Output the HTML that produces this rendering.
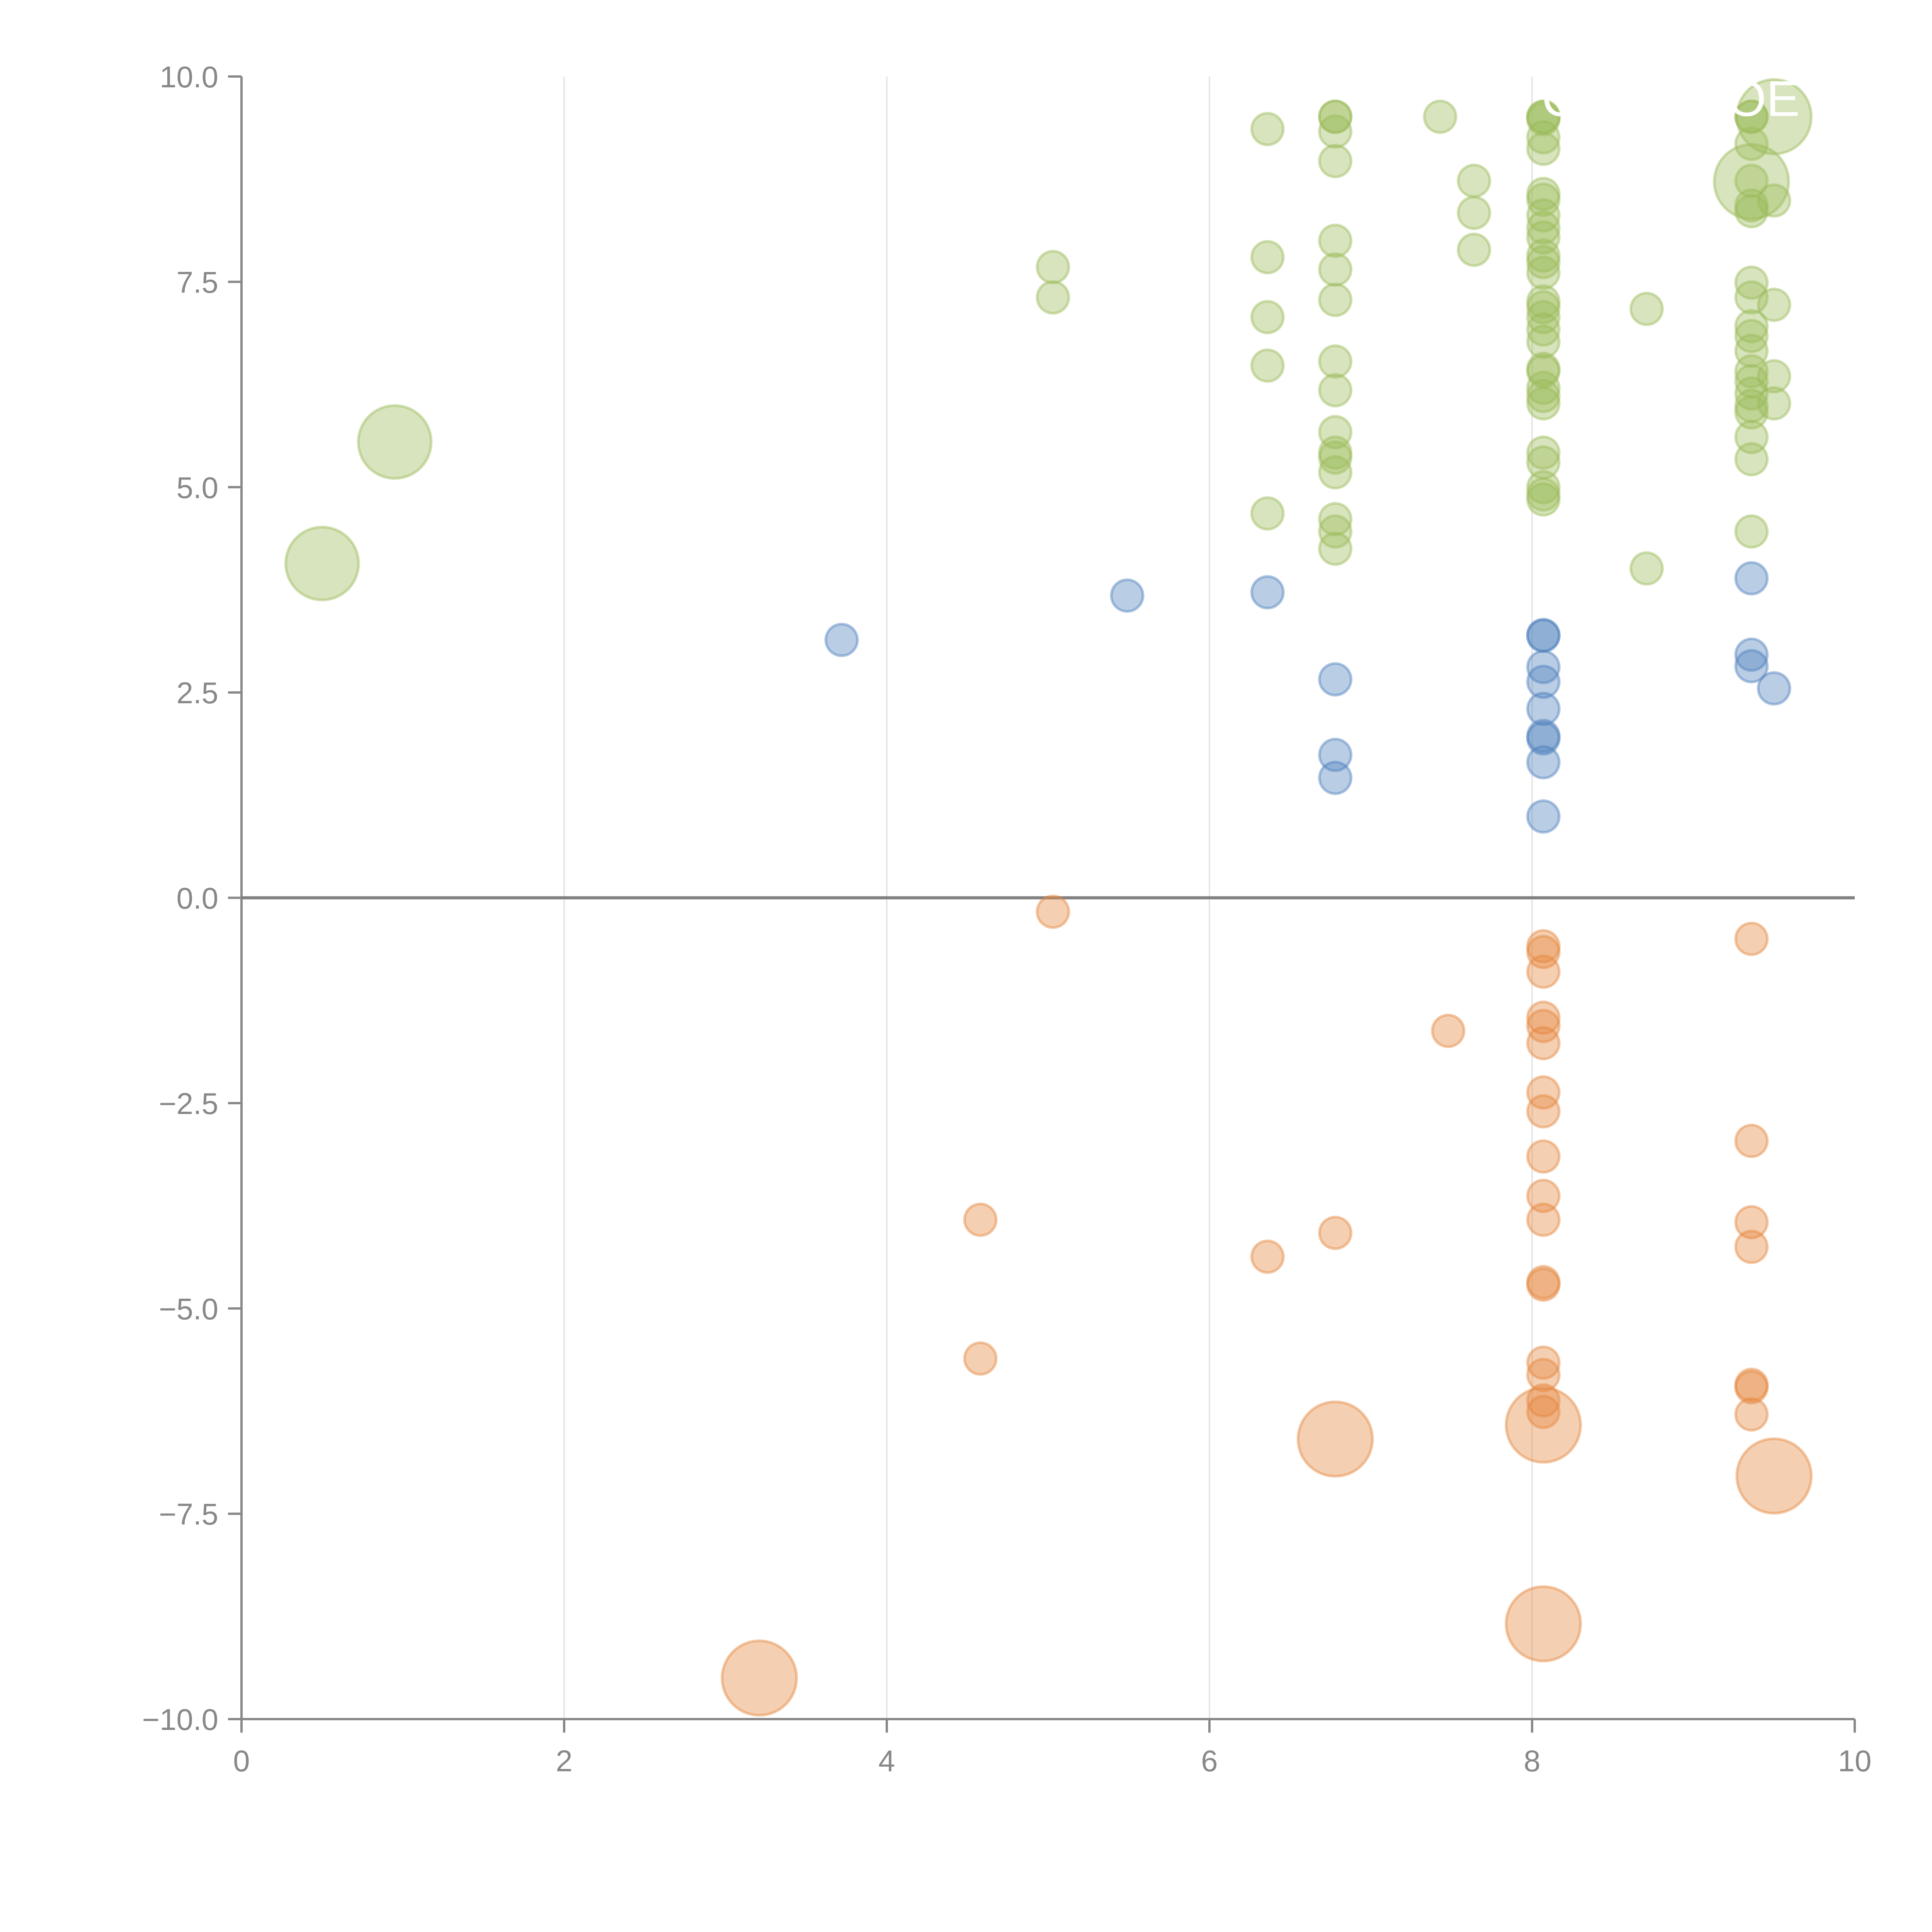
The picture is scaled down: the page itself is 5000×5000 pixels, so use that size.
<!DOCTYPE html>
<html><head><meta charset="utf-8">
<style>
html,body{margin:0;padding:0;background:#fff;}
svg{display:block;font-family:"Liberation Sans",Arial,sans-serif;}
</style></head>
<body>
<svg id="chart" width="5000" height="5000" viewBox="0 0 5000 5000" xmlns="http://www.w3.org/2000/svg">
<rect width="5000" height="5000" fill="#fff"/>
<g id="grid"></g>
<g id="axes"></g>
<g id="marks"></g>
<text x="4470" y="300" font-size="130" fill="#fff">OE</text>
<text x="3990" y="300" font-size="130" fill="#fff">C</text>
</svg>
<script>
const xTicks = [0,2,4,6,8,10];
const xTickLabels = ["0","2","4","6","8","10"];
const yTicks = [10,7.5,5,2.5,0,-2.5,-5,-7.5,-10];
const yTickLabels = ["10.0","7.5","5.0","2.5","0.0","\u22122.5","\u22125.0","\u22127.5","\u221210.0"];

const greenX = [0.5,0.95,5.03,5.03,6.36,6.36,6.36,6.36,6.36,
 6.78,6.78,6.78,6.78,6.78,6.78,6.78,6.78,6.78,6.78,6.78,6.78,6.78,6.78,6.78,6.78,
 7.43,7.64,7.64,7.64,
 8.07,8.07,8.07,8.07,8.07,8.07,8.07,8.07,8.07,8.07,8.07,8.07,8.07,8.07,8.07,8.07,8.07,8.07,8.07,8.07,8.07,8.07,8.07,8.07,8.07,8.07,8.07,8.07,
 8.71,8.71,
 9.36,9.36,9.36,9.36,9.36,9.36,9.36,9.36,9.36,9.36,9.36,9.36,9.36,9.36,9.36,9.36,9.36,9.36,9.36,9.36,
 9.5,9.5,9.5,9.5,9.5];
const greenY = [4.07,5.55,7.68,7.31,9.36,7.8,7.07,6.48,4.68,
 9.51,9.51,9.33,8.97,8.0,7.65,7.28,6.53,6.18,5.67,5.42,5.36,5.18,4.61,4.46,4.25,
 9.51,8.73,8.34,7.89,
 9.51,9.51,9.48,9.26,9.12,8.57,8.5,8.31,8.16,8.04,7.82,7.74,7.61,7.26,7.19,7.07,6.92,6.77,6.44,6.41,6.21,6.11,6.02,5.42,5.30,5.00,4.91,4.85,
 7.17,4.01,
 9.51,9.51,9.18,8.72,8.73,8.43,8.36,7.49,7.31,6.96,6.84,6.66,6.41,6.29,6.14,5.99,5.91,5.61,5.34,4.46,
 9.51,8.49,7.22,6.35,6.02];
const greenS = [2.3,2.3,1,1,1,1,1,1,1,
 1,1,1,1,1,1,1,1,1,1,1,1,1,1,1,1,
 1,1,1,1,
 1,1,1,1,1,1,1,1,1,1,1,1,1,1,1,1,1,1,1,1,1,1,1,1,1,1,1,1,
 1,1,
 1,1,1,2.35,1,1,1,1,1,1,1,1,1,1,1,1,1,1,1,1,
 2.35,1,1,1,1];

const blueX = [3.72,5.49,6.36,6.78,6.78,6.78,8.07,8.07,8.07,8.07,8.07,8.07,8.07,8.07,8.07,9.36,9.36,9.36,9.5];
const blueY = [3.14,3.68,3.72,2.66,1.74,1.46,3.2,3.19,2.81,2.63,2.30,1.97,1.94,1.65,0.99,3.89,2.96,2.82,2.55];
const blueS = [1,1,1,1,1,1,1,1,1,1,1,1,1,1,1,1,1,1,1];

const orangeX = [5.03,4.58,4.58,6.36,6.78,6.78,7.48,
 8.07,8.07,8.07,8.07,8.07,8.07,8.07,8.07,8.07,8.07,8.07,8.07,8.07,8.07,8.07,8.07,8.07,8.07,8.07,
 9.36,9.36,9.36,9.36,9.36,9.36,9.36,9.5,3.21];
const orangeY = [-0.17,-3.92,-5.61,-4.37,-4.08,-6.59,-1.62,
 -0.59,-0.66,-0.9,-1.46,-1.56,-1.77,-2.37,-2.6,-3.15,-3.63,-3.92,-4.68,-4.71,-5.66,-5.81,-6.12,-6.26,-6.42,-8.84,
 -0.5,-2.96,-3.95,-4.25,-5.93,-5.96,-6.29,-7.04,-9.5];
const orangeS = [1,1,1,1,1,2.35,1,
 1,1,1,1,1,1,1,1,1,1,1,1,1,1,1,1,1,2.35,2.35,
 1,1,1,1,1,1,1,2.35,2.35];

const X0=625, X1=4800, Y0=4449, Y1=198;
function sx(v){return X0+(v-0)/(10-0)*(X1-X0);}
function sy(v){return Y0-(v+10)/20*(Y0-Y1);}
const NS="http://www.w3.org/2000/svg";
function mk(tag,attrs,parent){const e=document.createElementNS(NS,tag);for(const k in attrs)e.setAttribute(k,attrs[k]);parent.appendChild(e);return e;}

const grid=document.getElementById('grid');
const axes=document.getElementById('axes');
const marks=document.getElementById('marks');

xTicks.forEach((t,i)=>{
  if(t>0&&t<10){
    const g=mk('line',{x1:sx(t),x2:sx(t),y1:Y1,y2:Y0,stroke:'#dedede','stroke-width':3},grid);
    
    
  }
  const tk=mk('line',{x1:sx(t),x2:sx(t),y1:Y0,y2:Y0+35,stroke:'#888','stroke-width':6},axes);
  
  
  const tx=mk('text',{x:sx(t),y:Y0+135,'font-size':78,fill:'#888','text-anchor':'middle'},axes);
  tx.textContent=xTickLabels[i];
  
  
});
yTicks.forEach((t,i)=>{
  const tk=mk('line',{x1:X0-35,x2:X0,y1:sy(t),y2:sy(t),stroke:'#888','stroke-width':6},axes);
  
  
  const tx=mk('text',{x:X0-60,y:sy(t)+28,'font-size':78,fill:'#888','text-anchor':'end'},axes);
  tx.textContent=yTickLabels[i];
  
  
});
const ya=mk('line',{x1:X0,x2:X0,y1:Y1,y2:Y0,stroke:'#888','stroke-width':6},axes);


const xa=mk('line',{x1:X0,x2:X1,y1:Y0,y2:Y0,stroke:'#888','stroke-width':6},axes);


const zl=mk('line',{x1:X0,x2:X1,y1:sy(0),y2:sy(0),stroke:'#808080','stroke-width':8},axes);



function series(xs,ys,ss,color,name){
  const g=mk('g',{},marks);
  
  
  xs.forEach((x,i)=>{
    const c=mk('circle',{cx:sx(x),cy:sy(ys[i]),r:41*ss[i],fill:color,'fill-opacity':0.4,stroke:color,'stroke-opacity':0.45,'stroke-width':7},g);
    
    
  });
}
series(greenX,greenY,greenS,'#9bbb59','green');
series(blueX,blueY,blueS,'#4f81bd','blue');
series(orangeX,orangeY,orangeS,'#e5883f','orange');
</script>
</body></html>
